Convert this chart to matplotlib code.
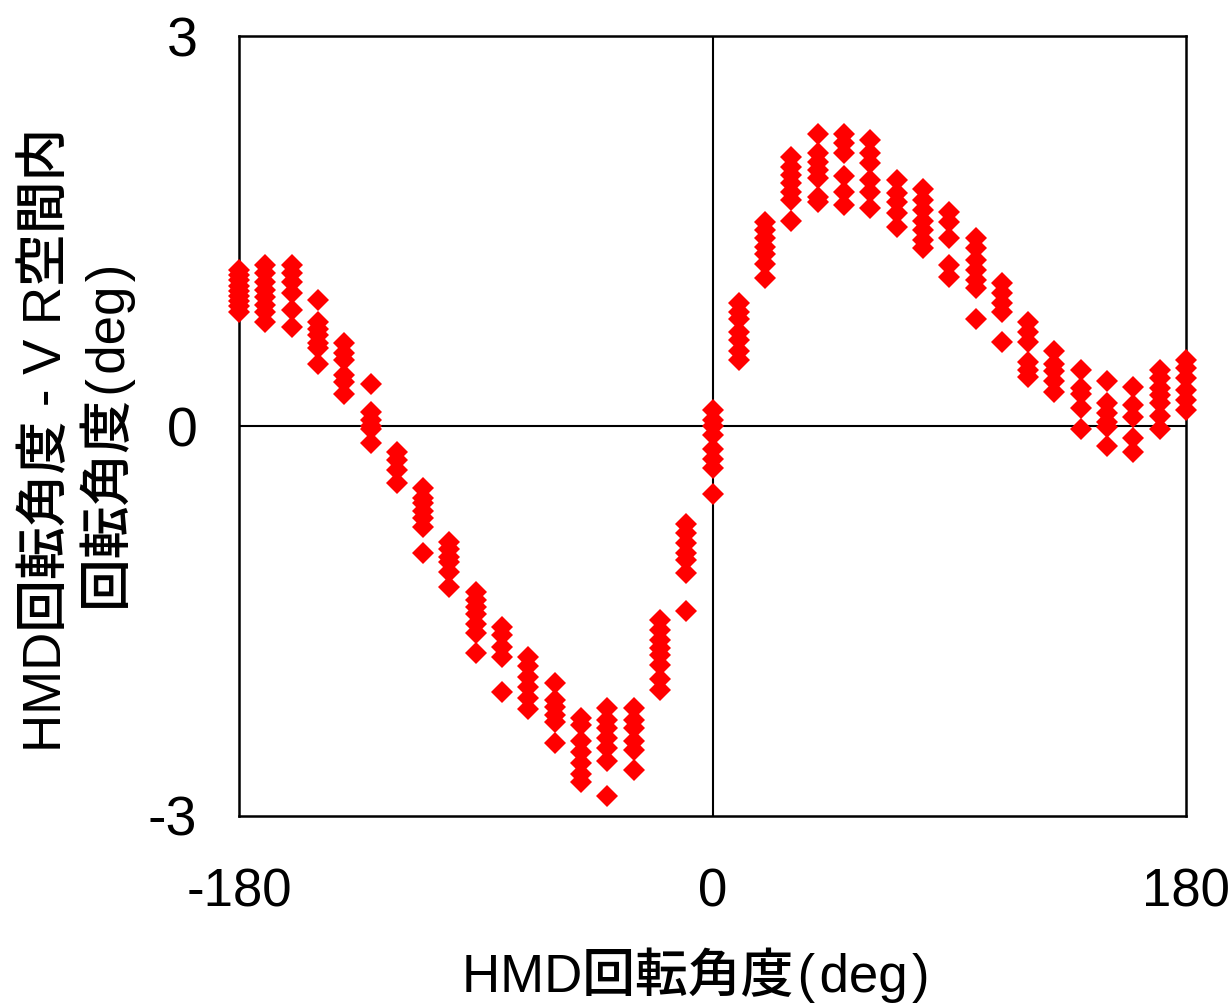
import numpy as np
import matplotlib
matplotlib.use("Agg")
import matplotlib.pyplot as plt

plt.rcParams["font.family"] = ["Liberation Sans", "Noto Sans CJK JP", "DejaVu Sans"]

# HMD rotation angle (deg), one column of samples every 10 deg
angles = list(range(-180, 181, 10))

# angular error for each column (deg)
errors = [
    [1.20, 1.16, 1.12, 1.08, 1.04, 1.00, 0.96, 0.92, 0.88],
    [1.24, 1.18, 1.11, 1.05, 0.99, 0.93, 0.88, 0.80],
    [1.24, 1.18, 1.11, 1.02, 0.89, 0.76],
    [0.97, 0.80, 0.75, 0.70, 0.64, 0.60, 0.48],
    [0.64, 0.56, 0.51, 0.39, 0.34, 0.25],
    [0.32, 0.11, 0.05, 0.00, -0.02, -0.13],
    [-0.20, -0.26, -0.34, -0.44],
    [-0.48, -0.55, -0.59, -0.65, -0.71, -0.78, -0.98],
    [-0.89, -0.95, -1.01, -1.05, -1.12, -1.24],
    [-1.28, -1.34, -1.39, -1.45, -1.52, -1.59, -1.75],
    [-1.55, -1.61, -1.70, -1.78, -2.05],
    [-1.78, -1.85, -1.93, -2.01, -2.09, -2.18],
    [-1.98, -2.11, -2.16, -2.22, -2.28, -2.44],
    [-2.25, -2.30, -2.42, -2.51, -2.59, -2.68, -2.74],
    [-2.17, -2.26, -2.32, -2.40, -2.48, -2.58, -2.85],
    [-2.17, -2.26, -2.32, -2.42, -2.49, -2.65],
    [-1.49, -1.57, -1.65, -1.71, -1.76, -1.84, -1.95, -2.03],
    [-0.75, -0.82, -0.90, -0.98, -1.03, -1.13, -1.42],
    [0.12, 0.05, 0.00, -0.07, -0.18, -0.25, -0.32, -0.52],
    [0.95, 0.88, 0.82, 0.72, 0.66, 0.58, 0.51],
    [1.57, 1.51, 1.45, 1.38, 1.32, 1.25, 1.14],
    [2.07, 1.99, 1.93, 1.87, 1.80, 1.74, 1.58],
    [2.25, 2.10, 2.03, 1.97, 1.91, 1.76, 1.72],
    [2.25, 2.18, 2.10, 1.92, 1.80, 1.70],
    [2.20, 2.10, 2.02, 1.89, 1.80, 1.68],
    [1.89, 1.79, 1.72, 1.64, 1.53],
    [1.82, 1.74, 1.66, 1.58, 1.51, 1.43, 1.37],
    [1.65, 1.57, 1.45, 1.24, 1.15],
    [1.45, 1.37, 1.28, 1.20, 1.12, 1.06, 0.82],
    [1.10, 1.02, 0.95, 0.88, 0.65],
    [0.80, 0.72, 0.65, 0.49, 0.43, 0.38],
    [0.58, 0.48, 0.42, 0.35, 0.26],
    [0.43, 0.29, 0.25, 0.14, -0.02],
    [0.35, 0.18, 0.10, 0.03, -0.01, -0.15],
    [0.30, 0.16, 0.07, -0.09, -0.20],
    [0.43, 0.37, 0.29, 0.24, 0.18, 0.08, -0.02],
    [0.51, 0.45, 0.37, 0.28, 0.20, 0.12],
]

xticks = [-180, 0, 180]
yticks = [-3, 0, 3]

xs = np.concatenate([[a] * len(e) for a, e in zip(angles, errors)])
ys = np.concatenate(errors)

fig = plt.figure(figsize=(12.29, 10.07), dpi=100)
ax = fig.add_axes([0.1945, 0.1897, 0.7705, 0.7745])

ax.plot(xs, ys, linestyle="None", marker="D", markersize=11.5,
        color="#ff0000", markeredgewidth=0, zorder=3, clip_on=False)

ax.axhline(0, color="black", lw=1.5, zorder=2)
ax.axvline(0, color="black", lw=1.5, zorder=2)

ax.set_xlim(-180, 180)
ax.set_ylim(-3, 3)
ax.set_xticks(xticks)
ax.set_yticks(yticks)
ax.set_xticklabels([str(t) for t in xticks])
ax.set_yticklabels([str(t) for t in yticks])
ax.tick_params(axis="x", length=0, labelsize=38, pad=37)
ax.tick_params(axis="y", length=0, labelsize=40, pad=30)
for lbl in ax.get_yticklabels():
    lbl.set_va("center_baseline")
for s in ax.spines.values():
    s.set_linewidth(1.8)

hs = "\u200a"
fig.text(0.566, 0.032, f"HMD回転角度{hs}({hs}deg{hs})", fontsize=38,
         ha="center", va="center", fontweight=500)
fig.text(0.038, 0.563, "HMD回転角度 - V R空間内", rotation=90,
         fontsize=38, ha="center", va="center", fontweight=500)
fig.text(0.088, 0.566, f"回転角度{hs}({hs}deg{hs})", rotation=90,
         fontsize=38, ha="center", va="center", fontweight=500)

plt.savefig("out.png", dpi=100)
plt.close()
